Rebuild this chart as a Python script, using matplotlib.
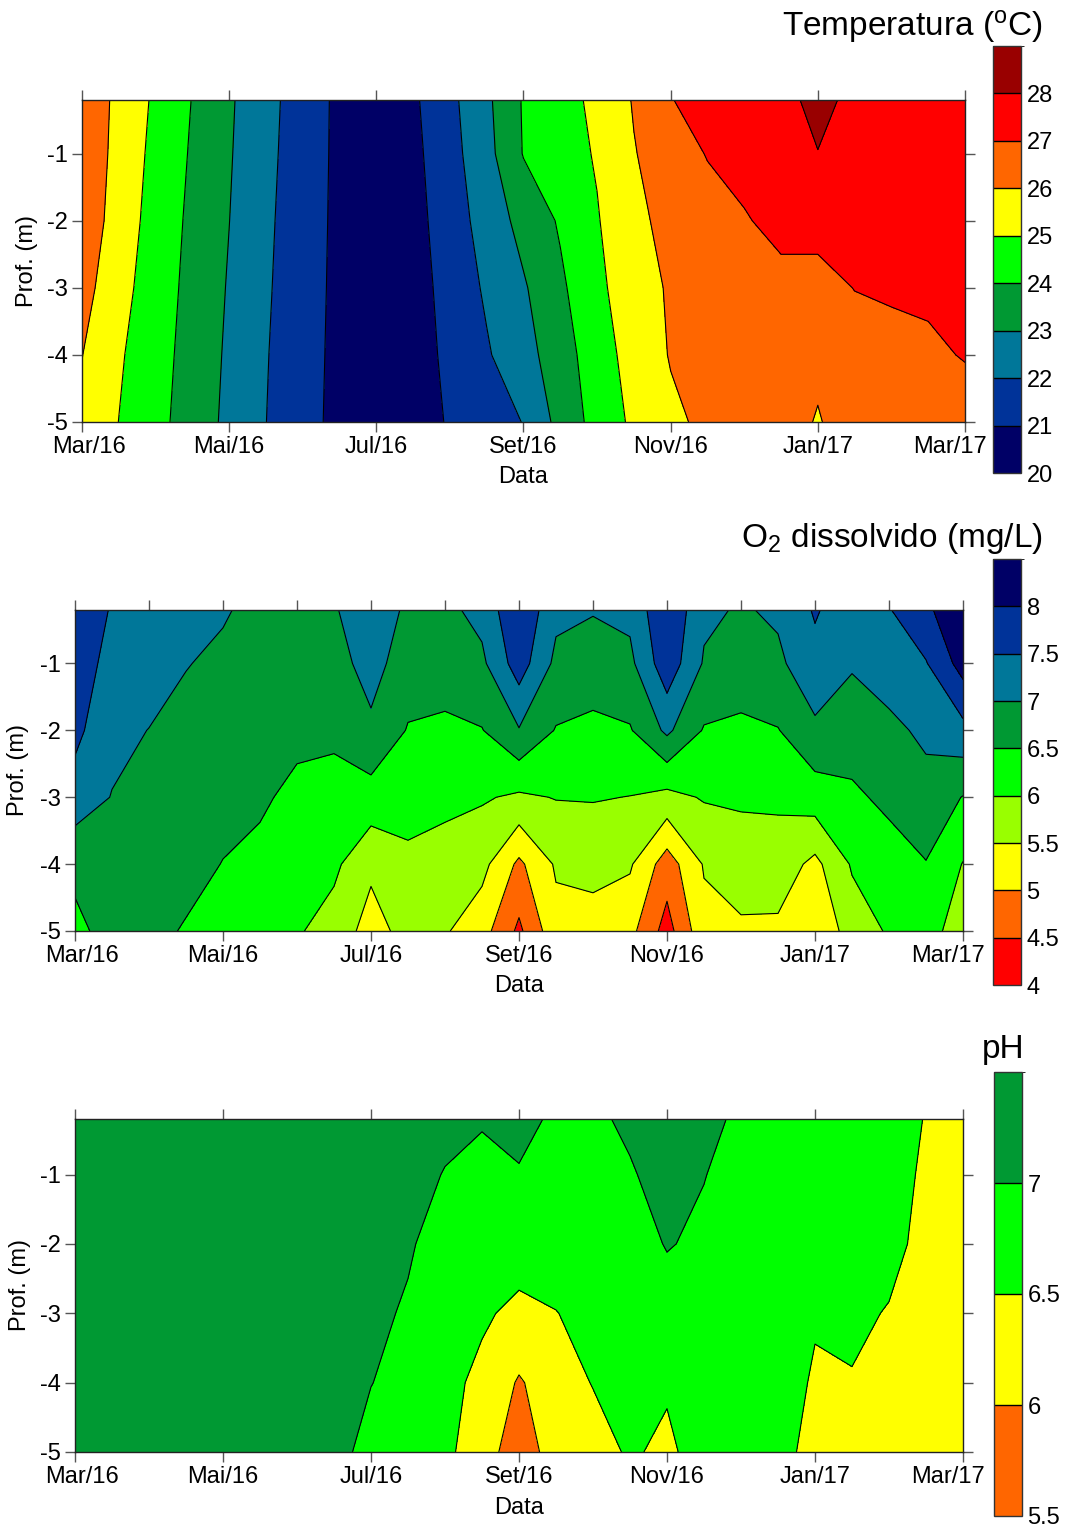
import numpy as np
import matplotlib
matplotlib.use("Agg")
import matplotlib.pyplot as plt
from matplotlib.colors import ListedColormap, BoundaryNorm
from matplotlib.transforms import ScaledTranslation

plt.rcParams['font.family'] = ['Liberation Sans', 'DejaVu Sans']
plt.rcParams['mathtext.fontset'] = 'custom'
plt.rcParams['mathtext.rm'] = 'Liberation Sans'
plt.rcParams['mathtext.it'] = 'Liberation Sans:italic'

# meses contados a partir de Mar/16, profundidades em metros
meses = [0, 0.5, 1, 1.5, 2, 2.5, 3, 3.5, 4, 4.5, 5, 5.5, 6,
         6.5, 7, 7.5, 8, 8.5, 9, 9.5, 10, 10.5, 11, 11.5, 12]
prof = [0.2, 1, 2, 3, 4, 5]
rotulos_x = ['Mar/16', 'Mai/16', 'Jul/16', 'Set/16', 'Nov/16', 'Jan/17', 'Mar/17']

# temperatura (oC), uma lista por profundidade
temp_02 = [26.7, 25.77, 24.83, 23.97, 23.13, 22.31, 21.52, 20.8, 20.4, 20.84, 21.75, 22.8, 24.09,
           24.62, 25.23, 26.07, 26.96, 27.4, 27.5, 27.6, 28.37, 27.68, 27.6, 27.6, 27.5]
temp_1 = [26.73, 25.69, 24.72, 23.89, 23.08, 22.26, 21.48, 20.8, 20.4, 20.75, 21.64, 22.68, 24.05,
          24.55, 25.09, 25.95, 26.51, 27.05, 27.3, 27.45, 27.97, 27.55, 27.45, 27.45, 27.4]
temp_2 = [26.66, 25.56, 24.6, 23.79, 23.01, 22.19, 21.42, 20.8, 20.4, 20.66, 21.5, 22.41, 23.33,
          24.11, 24.93, 25.79, 26.26, 26.6, 26.93, 27.25, 27.3, 27.35, 27.3, 27.3, 27.3]
temp_3 = [26.36, 25.35, 24.49, 23.71, 22.92, 22.13, 21.36, 20.8, 20.4, 20.57, 21.36, 22.14, 22.89,
          23.83, 24.76, 25.61, 26.1, 26.3, 26.45, 26.75, 26.7, 27.02, 27.1, 27.15, 27.25]
temp_4 = [26.02, 25.12, 24.38, 23.63, 22.84, 22.06, 21.3, 20.8, 20.4, 20.54, 21.23, 21.9, 22.63,
          23.54, 24.55, 25.38, 26.06, 26.2, 26.25, 26.3, 26.15, 26.6, 26.75, 26.85, 27.05]
temp_5 = [25.78, 24.99, 24.29, 23.55, 22.77, 22.01, 21.25, 20.8, 20.4, 20.5, 21.1, 21.55, 22.03,
          23.33, 24.36, 25.19, 25.81, 26.2, 26.25, 26.3, 25.95, 26.35, 26.45, 26.55, 26.6]

# oxigenio dissolvido (mg/L)
od_02 = [7.95, 7.45, 7.35, 7.2, 7.05, 6.85, 6.8, 6.95, 7.35, 6.9, 6.88, 7.15, 7.95,
         7.12, 7.02, 7.12, 7.95, 7.1, 6.95, 7.08, 7.55, 7.2, 7.47, 7.9, 8.4]
od_1 = [7.82, 7.3, 7.25, 7.02, 6.9, 6.8, 6.75, 6.8, 7.2, 6.72, 6.7, 6.9, 7.75,
        6.88, 6.85, 6.88, 7.82, 6.95, 6.78, 6.9, 7.35, 7.05, 7.25, 7.47, 8.2]
od_2 = [7.62, 7.15, 6.99, 6.85, 6.75, 6.7, 6.6, 6.58, 6.9, 6.47, 6.42, 6.48, 6.97,
        6.47, 6.35, 6.46, 7.1, 6.46, 6.4, 6.48, 6.9, 6.72, 6.88, 7.1, 7.35]
od_3 = [7.3, 6.98, 6.85, 6.75, 6.62, 6.56, 6.4, 6.35, 6.3, 6.18, 6.12, 6.05, 5.92,
        6.02, 6.03, 5.99, 5.85, 6.04, 6.07, 6.08, 6.25, 6.42, 6.6, 6.82, 6.48]
od_4 = [6.6, 6.8, 6.7, 6.62, 6.49, 6.4, 6.2, 6.1, 5.6, 5.9, 5.8, 5.65, 4.9,
        5.56, 5.65, 5.56, 4.75, 5.54, 5.75, 5.78, 5.37, 6.05, 6.3, 6.48, 5.98]
od_5 = [6.4, 6.65, 6.6, 6.47, 6.3, 6.2, 6.05, 5.8, 5.3, 5.68, 5.55, 5.2, 4.4,
        5.34, 5.3, 5.15, 4.3, 5.35, 5.42, 5.4, 5.03, 5.75, 6.05, 6.2, 5.75]

# pH
ph_02 = [7.25, 7.25, 7.25, 7.25, 7.25, 7.25, 7.24, 7.22, 7.15, 7.12, 7.06, 7.03, 7.2,
         6.89, 6.9, 7.1, 7.3, 7.15, 6.9, 6.88, 6.85, 6.85, 6.8, 6.47, 6.4]
ph_1 = [7.24, 7.24, 7.24, 7.24, 7.24, 7.24, 7.22, 7.2, 7.12, 7.08, 6.99, 6.9, 6.95,
        6.85, 6.85, 6.95, 7.2, 7.01, 6.88, 6.85, 6.8, 6.8, 6.75, 6.4, 6.35]
ph_2 = [7.22, 7.22, 7.22, 7.22, 7.22, 7.22, 7.2, 7.18, 7.1, 7.04, 6.85, 6.75, 6.7,
        6.7, 6.75, 6.85, 7.02, 6.94, 6.85, 6.8, 6.72, 6.72, 6.65, 6.35, 6.3]
ph_3 = [7.2, 7.2, 7.2, 7.2, 7.2, 7.2, 7.18, 7.16, 7.08, 6.96, 6.75, 6.56, 6.4,
        6.49, 6.62, 6.75, 6.85, 6.85, 6.8, 6.75, 6.54, 6.6, 6.47, 6.3, 6.25]
ph_4 = [7.18, 7.18, 7.18, 7.18, 7.18, 7.18, 7.16, 7.14, 7.01, 6.85, 6.62, 6.4, 5.95,
        6.28, 6.52, 6.65, 6.56, 6.78, 6.75, 6.7, 6.45, 6.47, 6.3, 6.25, 6.2]
ph_5 = [7.16, 7.16, 7.16, 7.16, 7.16, 7.16, 7.15, 7.15, 6.85, 6.72, 6.6, 6.25, 5.7,
        6.24, 6.3, 6.56, 6.4, 6.73, 6.7, 6.65, 6.35, 6.3, 6.2, 6.2, 6.15]

niveis_temp = [20, 21, 22, 23, 24, 25, 26, 27, 28, 29]
cores_temp = ['#000066', '#003399', '#007799', '#009933', '#00ff00',
              '#ffff00', '#ff6600', '#ff0000', '#990000']
niveis_od = [4, 4.5, 5, 5.5, 6, 6.5, 7, 7.5, 8, 8.5]
cores_od = ['#ff0000', '#ff6600', '#ffff00', '#99ff00', '#00ff00',
            '#009933', '#007799', '#003399', '#000066']
niveis_ph = [5.5, 6, 6.5, 7, 7.5]
cores_ph = ['#ff6600', '#ffff00', '#00ff00', '#009933']

fig = plt.figure(figsize=(10.68, 15.30), dpi=100)
W, H = 1068.0, 1530.0


def caixa(x0, y0, x1, y1):
    return [x0 / W, 1 - y1 / H, (x1 - x0) / W, (y1 - y0) / H]


def painel(ax, cax, linhas, niveis, cores, ticks_cb, rot_cb, mensal_topo=False):
    z = np.array(linhas)
    X, Y = np.meshgrid(meses, -np.array(prof))
    cmap = ListedColormap(cores)
    norm = BoundaryNorm(niveis, cmap.N)
    cf = ax.contourf(X, Y, z, levels=niveis, cmap=cmap, norm=norm)
    ax.contour(X, Y, z, levels=niveis, colors='black', linewidths=0.8)

    ax.set_xlim(0, 12)
    ax.set_ylim(-5, -0.2)
    ax.set_xticks([0, 2, 4, 6, 8, 10, 12])
    ax.set_xticklabels(rotulos_x)
    ax.set_yticks([-1, -2, -3, -4, -5])
    ax.set_yticklabels(['-1', '-2', '-3', '-4', '-5'])
    ax.tick_params(direction='out', length=7, width=1, color='#555555',
                   top=True, right=True, labelsize=17, pad=3)
    if mensal_topo:
        ax.set_xticks([1, 3, 5, 7, 9, 11], minor=True)
        ax.tick_params(which='minor', direction='out', length=7, width=1,
                       color='#555555', top=True, bottom=False)
    for s in ax.spines.values():
        s.set_color('#222222')
        s.set_linewidth(1)

    # rotulos das pontas puxados para dentro
    labs = ax.get_xticklabels()
    labs[0].set_transform(labs[0].get_transform() + ScaledTranslation(0.07, 0, fig.dpi_scale_trans))
    labs[-1].set_transform(labs[-1].get_transform() + ScaledTranslation(-0.15, 0, fig.dpi_scale_trans))

    cb = fig.colorbar(cf, cax=cax, ticks=ticks_cb, drawedges=True)
    cb.set_ticklabels(rot_cb)
    cb.ax.tick_params(length=0, labelsize=17, pad=4)
    cb.outline.set_edgecolor('#333333')
    cb.outline.set_linewidth(1)
    cb.dividers.set_color('black')
    cb.dividers.set_linewidth(1)
    return cf


ax1 = fig.add_axes(caixa(82, 100, 965, 422))
cax1 = fig.add_axes(caixa(993, 46, 1021, 473))
painel(ax1, cax1, [temp_02, temp_1, temp_2, temp_3, temp_4, temp_5],
       niveis_temp, cores_temp, [20, 21, 22, 23, 24, 25, 26, 27, 28],
       ['20', '21', '22', '23', '24', '25', '26', '27', '28'])

ax2 = fig.add_axes(caixa(75, 610, 963, 931))
cax2 = fig.add_axes(caixa(993, 559, 1021, 985))
painel(ax2, cax2, [od_02, od_1, od_2, od_3, od_4, od_5],
       niveis_od, cores_od, [4, 4.5, 5, 5.5, 6, 6.5, 7, 7.5, 8],
       ['4', '4.5', '5', '5.5', '6', '6.5', '7', '7.5', '8'], mensal_topo=True)

ax3 = fig.add_axes(caixa(75, 1119, 963, 1452))
cax3 = fig.add_axes(caixa(994, 1072, 1022, 1516))
painel(ax3, cax3, [ph_02, ph_1, ph_2, ph_3, ph_4, ph_5],
       niveis_ph, cores_ph, [5.5, 6, 6.5, 7], ['5.5', '6', '6.5', '7'])

# titulos das escalas
fig.text(1043 / W, 1 - 36 / H, 'Temperatura ($^{\\mathrm{o}}$C)', ha='right', va='baseline', fontsize=24)
fig.text(1043 / W, 1 - 547 / H, 'O$_{2}$ dissolvido (mg/L)', ha='right', va='baseline', fontsize=24)
fig.text(1003 / W, 1 - 1058 / H, 'pH', ha='center', va='baseline', fontsize=24)

# rotulos dos eixos
for xc, yc in [(523, 477), (519, 986), (519, 1508)]:
    fig.text(xc / W, 1 - yc / H, 'Data', ha='center', va='center', fontsize=17)
for xc, yc in [(27, 261), (18, 770), (20, 1285)]:
    fig.text(xc / W, 1 - yc / H, 'Prof. (m)', ha='center', va='center', rotation=90, fontsize=17)

fig.savefig('out.png', dpi=100)
